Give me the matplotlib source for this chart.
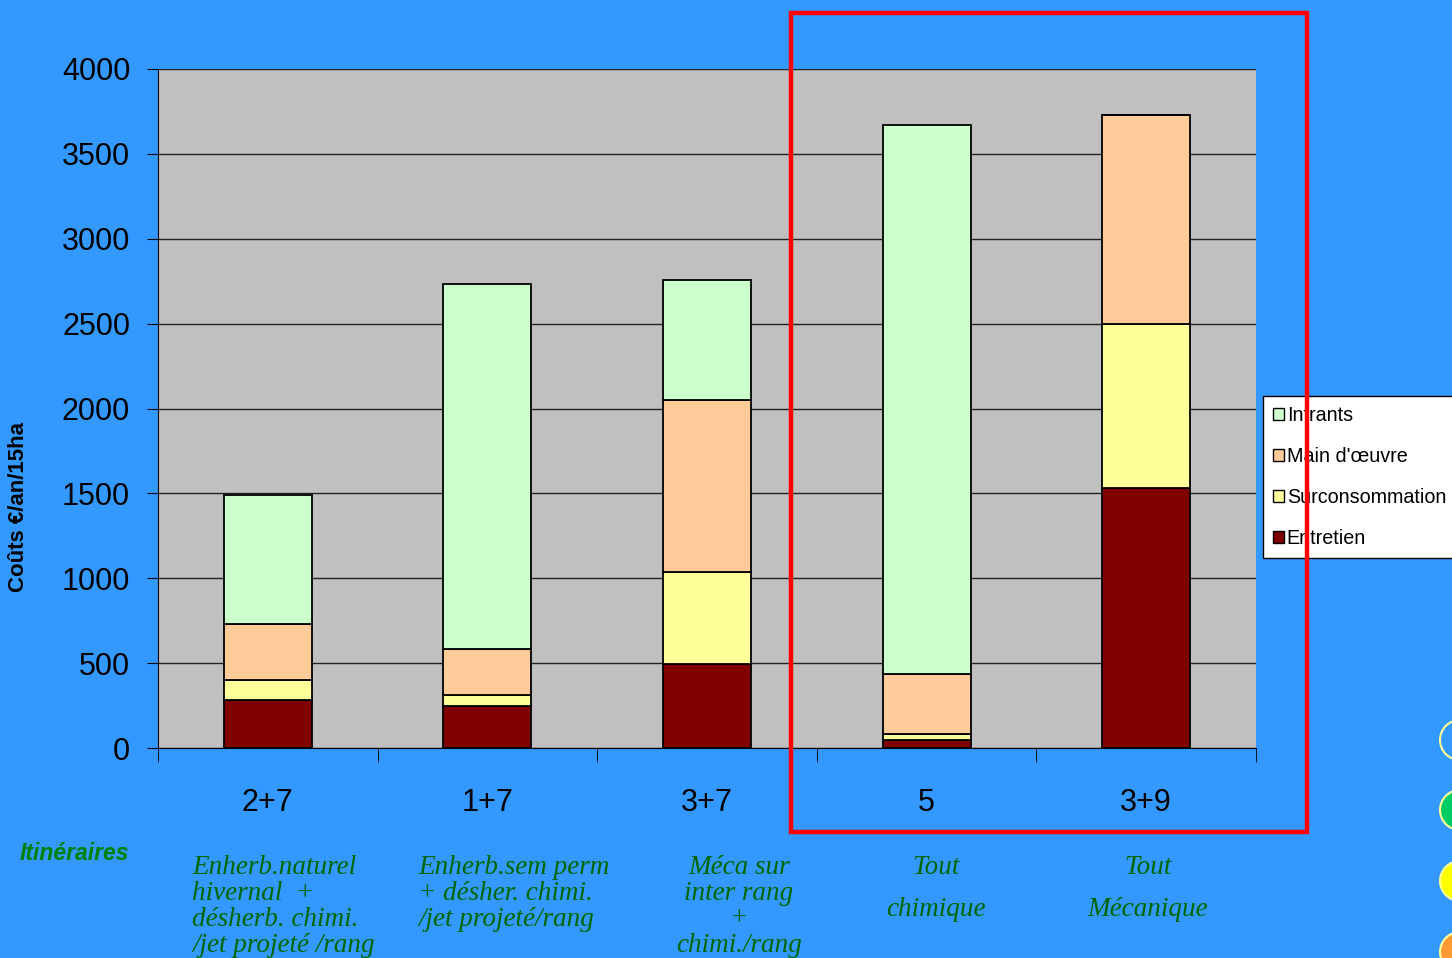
import matplotlib
matplotlib.use("Agg")
import matplotlib.pyplot as plt
from matplotlib.patches import Rectangle, Ellipse
import numpy as np

categories = ["2+7", "1+7", "3+7", "5", "3+9"]
entretien = [283, 247, 495, 47, 1531]
surconsommation = [117, 65, 542, 35, 966]
main_oeuvre = [330, 271, 1013, 354, 1231]
intrants = [760, 2150, 707, 3234, 0]
series_names = ["Entretien", "Surconsommation", "Main d'œuvre", "Intrants"]
series_colors = ["#800000", "#FFFF99", "#FFCC99", "#CCFFCC"]
yticks = [0, 500, 1000, 1500, 2000, 2500, 3000, 3500, 4000]
descriptions = [
    ["Enherb.naturel", "hivernal  +", "désherb. chimi.", "/jet projeté /rang"],
    ["Enherb.sem perm", "+ désher. chimi.", "/jet projeté/rang"],
    ["Méca sur", "inter rang", "+", "chimi./rang"],
    ["Tout", "", "chimique"],
    ["Tout", "", "Mécanique"],
]

W, H = 1452, 958
fig = plt.figure(figsize=(W / 100, H / 100), dpi=100, facecolor="#3399FF")
ax = fig.add_axes([158 / W, 1 - 748 / H, (1256 - 158) / W, (748 - 69) / H])
ax.set_facecolor("#C0C0C0")

sans = ["Liberation Sans", "DejaVu Sans"]

x = np.arange(len(categories))
bottom = np.zeros(len(categories))
data = [entretien, surconsommation, main_oeuvre, intrants]
handles = []
for vals, name, col in zip(data, series_names, series_colors):
    vals = np.array(vals, dtype=float)
    b = ax.bar(x, vals, width=0.40, bottom=bottom, color=col, edgecolor="black",
               linewidth=1.3, label=name, zorder=3)
    handles.append(b)
    bottom += vals

ax.set_xlim(-0.5, len(categories) - 0.5)
ax.set_ylim(0, 4000)
ax.set_yticks(yticks)
ax.yaxis.grid(True, color="#222222", linewidth=1.0, zorder=1)
ax.set_axisbelow(True)
for s in ["top", "right"]:
    ax.spines[s].set_visible(False)
ax.spines["left"].set_color("black")
ax.spines["bottom"].set_color("black")

ax.set_xticks(x)
ax.set_xticklabels(categories, fontsize=22, family=sans)
ax.tick_params(axis="x", which="major", length=0, pad=29)
ax.set_xticks(np.arange(-0.5, len(categories)), minor=True)
ax.tick_params(axis="x", which="minor", length=10, color="black", direction="out")
ax.tick_params(axis="y", length=8, color="black", direction="out", pad=12,
               labelsize=22)
for lab in ax.get_yticklabels():
    lab.set_family(sans)

fig.text(19 / W, 1 - 507 / H, "Coûts €/an/15ha", rotation=90, ha="center", va="center",
         fontsize=16, fontweight="bold", family=sans)

fig.text(20 / W, 1 - 853 / H, "Itinéraires", ha="left", va="center", fontsize=16.5,
         fontweight="bold", fontstyle="italic", color="#008000", family=sans)

serif = ["Liberation Serif", "DejaVu Serif"]
desc_color = "#006600"
desc_pos = [(192, "left"), (418, "left"), (739, "center"), (936, "center"), (1148, "center")]
for (px, ha), lines in zip(desc_pos, descriptions):
    for i, line in enumerate(lines):
        if not line:
            continue
        y = 867 + i * 26 if len(lines) != 3 or lines[1] else 867 + i * 21
        fig.text(px / W, 1 - y / H, line, ha=ha, va="center", fontsize=19.5,
                 fontstyle="italic", color=desc_color, family=serif)

leg = fig.legend(handles[::-1], series_names[::-1], loc="upper left",
                 bbox_to_anchor=(1263 / W, 1 - 396 / H), frameon=True, fancybox=False,
                 edgecolor="black", facecolor="white", framealpha=1,
                 prop={"family": sans, "size": 14.2}, handlelength=0.55, handleheight=0.55,
                 handletextpad=0.15, labelspacing=1.12, borderpad=0.5, borderaxespad=0)
leg.get_frame().set_linewidth(1.0)
for p in leg.get_patches():
    p.set_edgecolor("black")
    p.set_linewidth(1.0)

rect = Rectangle((791 / W, 1 - 832 / H), (1307 - 791) / W, (832 - 13) / H,
                 transform=fig.transFigure, fill=False, edgecolor="#FF0000",
                 linewidth=3.2, zorder=10)
fig.add_artist(rect)

circles = [(740, "#3399FF"), (810, "#00CC66"), (881, "#FFFF00"), (952, "#FF9933")]
for cy, fc in circles:
    e = Ellipse((1460 / W, 1 - cy / H), 40 / W, 40 / H, transform=fig.transFigure,
                facecolor=fc, edgecolor="#FFFF99", linewidth=1.5, zorder=5)
    fig.add_artist(e)

fig.savefig("out.png", dpi=100, facecolor=fig.get_facecolor())
